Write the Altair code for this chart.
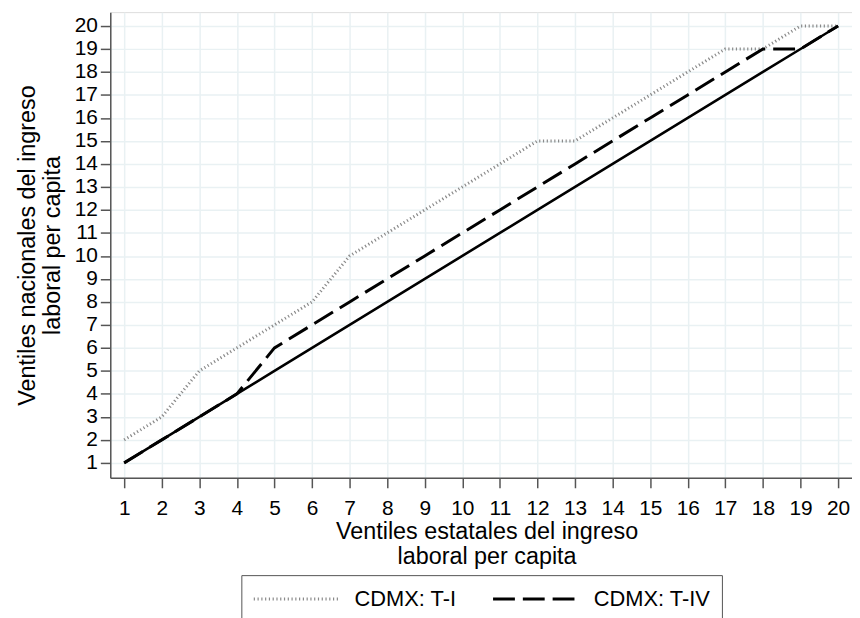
import altair as alt
import pandas as pd

x_vals = list(range(1, 21))
diag = list(range(1, 21))
t1 = [2, 3, 5, 6, 7, 8, 10, 11, 12, 13, 14, 15, 15, 16, 17, 18, 19, 19, 20, 20]
t4 = [1, 2, 3, 4, 6, 7, 8, 9, 10, 11, 12, 13, 14, 15, 16, 17, 18, 19, 19, 20]
series_names = ["CDMX: T-I", "CDMX: T-IV"]

df_diag = pd.DataFrame({"x": x_vals, "y": diag})
df_series = pd.DataFrame({
    "x": x_vals + x_vals,
    "y": t1 + t4,
    "serie": [series_names[0]] * 20 + [series_names[1]] * 20,
})

FONT = "Liberation Sans"

xscale = alt.Scale(domain=[0.63, 20.37], nice=False, zero=False)
yscale = alt.Scale(domain=[0.35, 20.6], nice=False, zero=False)

common_axis = dict(
    values=x_vals, labelFontSize=21, titleFontSize=23.5, labelFont=FONT, titleFont=FONT,
    titleFontWeight="normal", tickSize=10,
    titleLineHeight=25, labelColor="black", titleColor="black",
    gridColor="#e9f1f3", gridWidth=1.5, domainColor="#555555", domainWidth=1.5,
    tickColor="#555555", tickWidth=1.5, labelFlush=False, labelOverlap=False,
)
xaxis = alt.Axis(title=["Ventiles estatales del ingreso", "laboral per capita"],
                 titlePadding=1, labelPadding=10, titleX=379, **common_axis)
yaxis = alt.Axis(title=["Ventiles nacionales del ingreso", "laboral per capita"],
                 titlePadding=10, labelPadding=3, **common_axis)

X = alt.X("x:Q", scale=xscale, axis=xaxis)
Y = alt.Y("y:Q", scale=yscale, axis=yaxis)

legend_kw = dict(
    title=None, orient="none", legendX=132, legendY=567,
    direction="horizontal", columns=2, symbolType="stroke",
    symbolSize=7225, symbolStrokeWidth=3, labelFontSize=22,
    labelFont=FONT, labelColor="black", labelOffset=15,
    columnPadding=35, padding=11, strokeColor="#555555", clipHeight=26,
)

base_diag = alt.Chart(df_diag).mark_line(color="black", strokeWidth=2.5).encode(x=X, y=Y)

lines = alt.Chart(df_series).mark_line(strokeWidth=3).encode(
    x=X,
    y=Y,
    color=alt.Color(
        "serie:N",
        scale=alt.Scale(domain=series_names, range=["#8a8a8a", "black"]),
        legend=alt.Legend(**legend_kw),
    ),
    strokeDash=alt.StrokeDash(
        "serie:N",
        scale=alt.Scale(domain=series_names, range=[[1.2, 2.6], [22, 8]]),
        legend=alt.Legend(**legend_kw),
    ),
    order="x:Q",
)

chart = alt.layer(lines, base_diag).properties(
    width=747, height=469,
    autosize=alt.AutoSizeParams(type="none"),
    padding={"left": 103, "top": 2, "right": 0, "bottom": 139},
).configure_view(stroke=None).configure(background="white")

chart.save("out.html", embed_options={"renderer": "svg", "actions": False})
